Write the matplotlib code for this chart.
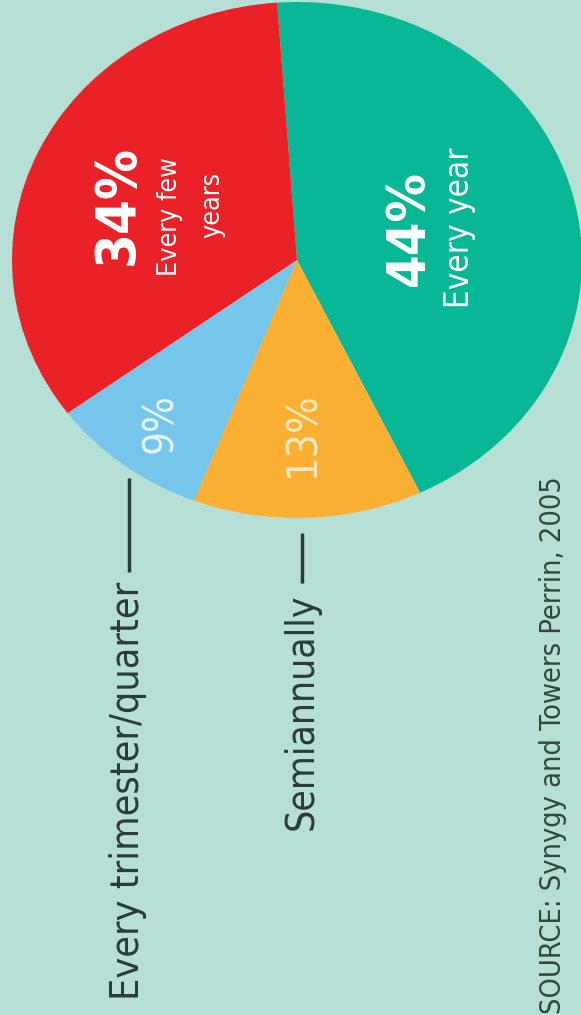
import matplotlib
matplotlib.use("Agg")
import matplotlib.pyplot as plt

# Pay-raise frequency survey
categories = ["Every year", "Semiannually", "Every trimester/quarter", "Every few years"]
shares = [44, 13, 9, 34]
colors = ["#07b796", "#fbb034", "#76c6ec", "#ea2227"]
source = "SOURCE: Synygy and Towers Perrin, 2005"

BG = "#b6dfd5"
INK = "#2b3b38"
FAMILY = ["DejaVu Sans"]

W, H = 581, 1015
CX, CY = 297, 260      # pie centre in pixels
RX, RY = 285, 258      # horizontal / vertical radius in pixels


def to_data(px, py):
    return (px - CX) / RX, (CY - py) / RY


fig = plt.figure(figsize=(W / 100, H / 100), dpi=100, facecolor=BG)
ax = fig.add_axes([0, 0, 1, 1])
ax.set_facecolor(BG)

ax.pie(shares, colors=colors, startangle=94, counterclock=False, radius=1,
       wedgeprops=dict(linewidth=0))
ax.set_aspect("auto")
ax.set_xlim(-CX / RX, (W - CX) / RX)
ax.set_ylim((CY - H) / RY, CY / RY)
ax.axis("off")

# (text, run length in px) pairs, sized after a first draw
fitted = []


def label(px, py, s, length, weight="normal", color="white", va="center"):
    x, y = to_data(px, py)
    t = ax.text(x, y, s, rotation=90, ha="center", va=va, fontsize=20,
                fontweight=weight, color=color, family=FAMILY,
                fontstretch="condensed")
    if length:
        fitted.append((t, length))
    return t


# inside the slices
label(118, 205, f"{shares[3]}%", 120, "bold")
few = label(170, 217, "Every few", 119)
years = label(212, 205, "years", None)
label(409, 228, f"{shares[0]}%", 116, "bold")
label(459, 228, categories[0], 160)
label(160, 423, f"{shares[2]}%", 60, color="#e4f4fc")
label(302, 434, f"{shares[1]}%", 86, color="#fde7bd")


# outside labels with leader lines
def leader(px, line_top, line_bottom):
    x0, y0 = to_data(px, line_top)
    x1, y1 = to_data(px, line_bottom)
    ax.plot([x0, x1], [y0, y1], color=INK, lw=2.5, solid_capstyle="butt")


leader(129, 478, 572)
leader(302, 533, 583)
label(128, 582, categories[2], 417, color=INK, va="top")
label(302, 593, categories[1], 237, color=INK, va="top")
label(553, 476, source, 535, color="#34473f", va="top")

fig.canvas.draw()
renderer = fig.canvas.get_renderer()
for t, length in fitted:
    ext = t.get_window_extent(renderer)
    t.set_fontsize(t.get_fontsize() * length / ext.height)
years.set_fontsize(few.get_fontsize())

fig.savefig("out.png", dpi=100, facecolor=BG)
